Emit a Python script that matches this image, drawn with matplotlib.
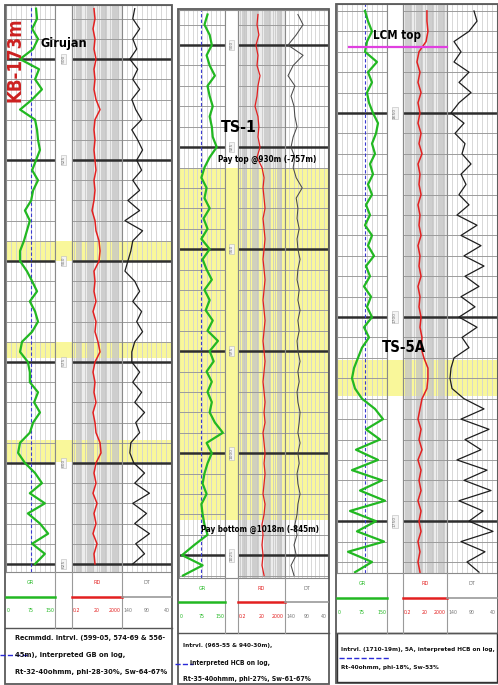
import numpy as np
import matplotlib
matplotlib.use("Agg")
import matplotlib.pyplot as plt
from matplotlib.patches import Rectangle
from matplotlib.lines import Line2D
from matplotlib.ticker import NullLocator
from matplotlib import font_manager as fm

W, H = 498, 685

# pick the narrowest available sans family for the annotation texts
_names = {(f.name, f.stretch) for f in fm.fontManager.ttflist}
if any(n == 'Liberation Sans Narrow' for n, s in _names):
    NARROW, STRETCH = ['Liberation Sans Narrow', 'DejaVu Sans'], 'normal'
elif ('DejaVu Sans', 'condensed') in _names:
    NARROW, STRETCH = ['DejaVu Sans'], 'condensed'
else:
    NARROW, STRETCH = ['Liberation Sans', 'DejaVu Sans'], 'normal'

# ---------------- data ----------------
# Panel 1 : Girujan
p1_depth = np.arange(487.5, 626.0, 2.5)
p1_gr = [92, 95, 80, 98, 83, 43, 101, 89, 110, 80,
         43, 89, 95, 98, 104, 92, 80, 98, 83, 77,
         58, 73, 64, 55, 43, 43, 64, 80, 95, 73,
         89, 98, 80, 49, 43, 67, 73, 73, 98, 86,
         104, 83, 73, 43, 37, 58, 89, 110, 73, 119,
         67, 104, 129, 80, 119, 89]
p1_res = [11.5, 13.8, 9.6, 13.8, 11.5, 16.6, 11.5, 13.8, 11.5, 16.6,
          35, 13.8, 11.5, 13.8, 11.5, 13.8, 16.6, 11.5, 13.8, 11.5,
          8, 13.8, 16.6, 29, 35, 29, 11.5, 13.8, 11.5, 16.6,
          9.6, 16.6, 13.8, 24, 35, 13.8, 9.6, 13.8, 11.5, 16.6,
          9.6, 13.8, 16.6, 35, 42, 16.6, 11.5, 16.6, 9.6, 20,
          11.5, 16.6, 9.6, 20, 11.5, 13.8]
p1_dt = [114, 118, 104, 118, 110, 124, 108, 118, 104, 120,
         112, 100, 120, 108, 98, 110, 100, 118, 104, 128,
         104, 134, 98, 118, 122, 128, 134, 114, 104, 118,
         100, 110, 98, 114, 120, 120, 104, 118, 100, 114,
         94, 112, 104, 122, 124, 116, 94, 114, 84, 118,
         90, 114, 84, 112, 94, 118]
p1_pay = [(545.0, 550.0), (570.0, 574.0), (594.3, 599.7)]
p1_text = ["Recmmdd. Intrvl. (599-05, 574-69 & 556-",
           "45m), interpreted GB on log,",
           "Rt-32-40ohmm, phi-28-30%, Sw-64-67%"]

# Panel 2 : TS-1
p2_depth = np.arange(892.5, 1031.0, 2.5)
p2_gr = [93, 83, 100, 107, 90, 100, 117, 93, 100, 110,
         100, 107, 110, 123, 100, 83, 73, 90, 83, 100,
         80, 93, 73, 100, 77, 90, 107, 83, 100, 87,
         110, 93, 127, 100, 113, 90, 107, 93, 107, 100,
         117, 143, 90, 107, 93, 83, 77, 90, 73, 77,
         83, 93, 50, 10, 77, 13]
p2_res = [10, 8.3, 12, 6.8, 10, 8.3, 15, 10, 8.3, 5.6,
          10, 12, 10, 15, 8.3, 22, 33, 27, 33, 40,
          27, 33, 40, 33, 27, 33, 40, 33, 27, 33,
          40, 33, 27, 33, 40, 33, 27, 33, 40, 33,
          40, 27, 33, 40, 33, 40, 33, 27, 40, 33,
          22, 27, 22, 27, 22, 33]
p2_dt = [110, 98, 114, 133, 98, 121, 133, 117, 126, 119,
         117, 112, 121, 126, 117, 121, 114, 100, 114, 110,
         112, 107, 112, 110, 105, 110, 112, 107, 110, 105,
         110, 107, 112, 110, 105, 110, 107, 112, 110, 105,
         107, 110, 105, 110, 107, 112, 110, 105, 110, 112,
         117, 112, 119, 114, 126, 119]
p2_pay = [(930.0, 1016.5)]
p2_text = ["Intrvl. (965-55 & 940-30m),",
           "interpreted HCB on log,",
           "Rt-35-40ohmm, phi-27%, Sw-61-67%"]

# Panel 3 : TS-5A
p3_depth = np.arange(1625.0, 1763.0, 2.5)
p3_gr = [84, 93, 105, 90, 84, 120, 93, 105, 90, 96,
         108, 123, 117, 105, 114, 99, 108, 93, 105, 87,
         99, 84, 105, 93, 111, 87, 99, 81, 102, 90,
         105, 81, 96, 75, 63, 51, 45, 54, 75, 114,
         138, 87, 129, 57, 123, 45, 135, 69, 144, 39,
         117, 60, 141, 33, 105, 54]
p3_res = [30, 30, 37, 25, 5.7, 3.7, 7, 4.6, 8.7, 4.6,
          7, 4.6, 8.7, 5.7, 10.7, 4.6, 7, 5.7, 8.7, 4.6,
          7, 5.7, 8.7, 4.6, 7, 5.7, 8.7, 4.6, 7, 5.7,
          8.7, 7, 10.7, 8.7, 16, 37, 37, 30, 10.7, 7,
          4.6, 8.7, 5.7, 10.7, 4.6, 8.7, 5.7, 8.7, 4.6, 8.7,
          5.7, 8.7, 4.6, 7, 4.6, 7]
p3_dt = [86, 80, 96, 126, 112, 126, 96, 116, 92, 116,
         132, 106, 124, 104, 110, 92, 112, 102, 116, 96,
         120, 80, 112, 72, 106, 66, 104, 76, 112, 84,
         116, 80, 110, 96, 126, 132, 134, 130, 106, 66,
         112, 56, 104, 72, 120, 60, 106, 52, 116, 68,
         96, 48, 112, 64, 100, 76]
p3_pay = [(1710.5, 1719.3)]
p3_lcm_top = 1633.8
p3_text = ["Intrvl. (1710-19m), 5A, interpreted HCB on log,",
           "Rt-40ohmm, phi-18%, Sw-53%"]

gr_scale = ["0", "75", "150"]
res_scale = ["0.2", "20", "2000"]
dt_scale = ["140", "90", "40"]
curve_names = ["GR", "RD", "DT"]

# ---------------- styling ----------------
YELLOW = '#f9f79a'
GREEN = '#22b822'
RED = '#e32020'

fig = plt.figure(figsize=(W / 100, H / 100), dpi=100)
fig.patch.set_facecolor('white')
renderer = fig.canvas.get_renderer()


def frect(x0, y0, x1, y1):
    return [x0 / W, 1 - y1 / H, (x1 - x0) / W, (y1 - y0) / H]


def fx(x):
    return x / W


def fy(y):
    return 1 - y / H


def fline(x0, x1, y0, y1, **kw):
    fig.add_artist(Line2D([fx(x0), fx(x1)], [fy(y0), fy(y1)],
                          transform=fig.transFigure, **kw))


def fit_text(x, y, s, target, size=8, vertical=False, **kw):
    """Place a text and scale its font so its length matches the target (pixels)."""
    kw.setdefault('family', NARROW)
    kw.setdefault('fontstretch', STRETCH)
    t = fig.text(fx(x), fy(y), s, fontsize=size, **kw)
    for _ in range(2):
        bb = t.get_window_extent(renderer)
        cur = bb.height if vertical else bb.width
        if cur > 0:
            t.set_fontsize(t.get_fontsize() * target / cur)
    return t


panels = [
    dict(xs=(6, 55, 72, 122, 171), ytop=5, ybot=572, dtop=486.6, dbot=627.0,
         depth=p1_depth, gr=p1_gr, res=p1_res, dt=p1_dt, pay=p1_pay,
         grcut=77, major=25, frame=(5, 5, 172, 684), hdr=(597, 610, 628),
         dtcol='#1e1e1e', dtlw=0.9, reslw=1.1,
         text=p1_text, tx=(15, 15, 15), ty=(638, 655, 672), tw=(150, 110, 150)),
    dict(xs=(179, 225, 238, 285, 328), ytop=10, ybot=578, dtop=891.4, dbot=1030.6,
         depth=p2_depth, gr=p2_gr, res=p2_res, dt=p2_dt, pay=p2_pay,
         grcut=72, major=25, frame=(178, 9, 329, 684), hdr=(602, 617, 633),
         dtcol='#4a4a4a', dtlw=0.75, reslw=0.9,
         text=p2_text, tx=(183, 190, 183), ty=(646, 663, 679), tw=(89, 80, 128)),
    dict(xs=(337, 387, 403, 447, 497), ytop=4, ybot=573, dtop=1623.3, dbot=1762.7,
         depth=p3_depth, gr=p3_gr, res=p3_res, dt=p3_dt, pay=p3_pay,
         grcut=84, major=50, frame=(336, 4, 498, 683), hdr=(598, 612, 633),
         dtcol='#1e1e1e', dtlw=0.9, reslw=1.1,
         text=p3_text, tx=(341, 341), ty=(650, 667), tw=(153, 98)),
]

for P in panels:
    g0, g1, r0, r1, d1 = P['xs']
    minor = np.arange(np.ceil(P['dtop'] / 5) * 5, P['dbot'], 5)

    def mk(xa, xb):
        ax = fig.add_axes(frect(xa, P['ytop'], xb, P['ybot']))
        ax.set_ylim(P['dbot'], P['dtop'])
        ax.set_facecolor('white')
        for s in ax.spines.values():
            s.set_color('#8a8a8a')
            s.set_linewidth(0.8)
        for a, b in P['pay']:
            ax.axhspan(a, b, color=YELLOW, lw=0, zorder=0)
        return ax

    def clean(ax):
        ax.xaxis.set_major_locator(NullLocator())
        ax.xaxis.set_minor_locator(NullLocator())
        ax.yaxis.set_major_locator(NullLocator())
        ax.yaxis.set_minor_locator(NullLocator())

    def hgrid(ax):
        for d in minor:
            if d % P['major'] == 0:
                ax.axhline(d, color='#2e2e2e', lw=1.8, zorder=1.5)
            else:
                ax.axhline(d, color='#9c9c9c', lw=0.7, zorder=1)

    # GR track
    ax_gr = mk(g0, g1)
    ax_gr.set_xlim(0, 150)
    for v in np.arange(15, 150, 15):
        ax_gr.axvline(v, color='#d2d2d2', lw=0.6, zorder=0.8)
    hgrid(ax_gr)
    ax_gr.axvline(P['grcut'], color='#3a3ad0', lw=0.8, ls=(0, (3, 2)), zorder=2)
    ax_gr.plot(P['gr'], P['depth'], color=GREEN, lw=1.6, zorder=3)
    clean(ax_gr)

    # depth column
    ax_d = mk(g1, r0)
    ax_d.set_xlim(0, 1)
    for d in minor:
        if d % P['major'] == 0:
            ax_d.text(0.5, d, f"{int(d)}", rotation=90, fontsize=3.2, color='#777777',
                      ha='center', va='center', transform=ax_d.get_yaxis_transform(),
                      bbox=dict(boxstyle='square,pad=0.2', fc='#f4f4f4', ec='#bbbbbb', lw=0.4),
                      zorder=3)
    clean(ax_d)

    # resistivity track (log)
    ax_r = mk(r0, r1)
    ax_r.set_xscale('log')
    ax_r.set_xlim(0.2, 2000)
    ax_r.axvspan(0.2, 2000, color='#ececec', lw=0, zorder=0.2)
    for a, b in P['pay']:
        ax_r.axhspan(a, b, color=YELLOW, lw=0, zorder=0.3)
    for e in range(-1, 4):
        for k in range(1, 10):
            v = k * 10.0 ** e
            if 0.2 < v < 2000:
                ax_r.axvline(v, color='#c6c6c6', lw=0.55, zorder=0.8)
    hgrid(ax_r)
    ax_r.plot(P['res'], P['depth'], color=RED, lw=P['reslw'], zorder=3)
    clean(ax_r)

    # DT track
    ax_t = mk(r1, d1)
    ax_t.set_xlim(140, 40)
    for v in np.arange(50, 140, 10):
        ax_t.axvline(v, color='#d2d2d2', lw=0.6, zorder=0.8)
    hgrid(ax_t)
    ax_t.plot(P['dt'], P['depth'], color=P['dtcol'], lw=P['dtlw'], zorder=3)
    clean(ax_t)

    # ---- header ----
    fx0, fy0, fx1, fy1 = P['frame']
    hl, hn, hb = P['hdr']
    fline(fx0, fx1, hb, hb, color='#555555', lw=1.0)
    for xv in (g1, r0, r1):
        fline(xv, xv, P['ybot'], hb, color='#9a9a9a', lw=0.8)
    fline(g0, g1, hl, hl, color=GREEN, lw=1.8)
    fline(r0, r1, hl, hl, color=RED, lw=1.8)
    fline(r1, d1, hl, hl, color='#9a9a9a', lw=1.2)
    ymid = (P['ybot'] + hl) / 2 - 2
    for (a, b), name, col in zip(((g0, g1), (r0, r1), (r1, d1)), curve_names,
                                  (GREEN, RED, '#777777')):
        fig.text(fx((a + b) / 2), fy(ymid), name, fontsize=4, color=col,
                 ha='center', va='center', family=NARROW, fontstretch=STRETCH)
    for (a, b), labs, col in zip(((g0, g1), (r0, r1), (r1, d1)),
                                 (gr_scale, res_scale, dt_scale),
                                 (GREEN, RED, '#777777')):
        for lab, xx, ha in ((labs[0], a + 1, 'left'), (labs[1], (a + b) / 2, 'center'),
                            (labs[2], b - 1, 'right')):
            fig.text(fx(xx), fy(hn), lab, fontsize=3.8, color=col, ha=ha, va='center',
                     family=NARROW, fontstretch=STRETCH)

    # annotation text
    for line, x, y, w in zip(P['text'], P['tx'], P['ty'], P['tw']):
        fit_text(x, y, line, w, fontweight='bold', ha='left', va='center', color='#111111')

    # panel frame
    fig.add_artist(Rectangle((fx(fx0), fy(fy1)), fx(fx1) - fx(fx0), fy(fy0) - fy(fy1),
                             transform=fig.transFigure, fill=False, ec='#5a5a5a', lw=1.3))

# panel 3 text box and LCM top marker
fig.add_artist(Rectangle((fx(337), fy(682)), fx(497) - fx(337), fy(633) - fy(682),
                         transform=fig.transFigure, fill=False, ec='#333333', lw=1.0))
ov = fig.add_axes(frect(337, 4, 497, 573), facecolor='none')
ov.set_ylim(panels[2]['dbot'], panels[2]['dtop'])
ov.set_xlim(0, 1)
ov.axis('off')
ov.axhline(p3_lcm_top, xmin=0.075, xmax=0.685, color='#e040e0', lw=1.6, zorder=5)

# blue dashed strokes near the notes
fline(0, 28, 655, 655, color='#2a2ad8', lw=1.0, ls='--')
fline(175, 193, 664, 664, color='#2a2ad8', lw=1.0, ls='--')
fline(339, 390, 658, 658, color='#2a2ad8', lw=1.0, ls='--')

# labels on the logs
fit_text(64, 43, "Girujan", 46, fontweight='bold', ha='center', va='center', color='black')
fit_text(15, 60, "KB-173m", 84, vertical=True, fontweight='bold', rotation=90,
         ha='center', va='center', color='#cc2020')
fit_text(239, 128, "TS-1", 36, fontweight='bold', ha='center', va='center', color='black')
fit_text(267, 159, "Pay top @930m (-757m)", 100, fontweight='bold', ha='center', va='center',
         color='black')
fit_text(260, 529, "Pay bottom @1018m (-845m)", 118, fontweight='bold', ha='center',
         va='center', color='black')
fit_text(397, 36, "LCM top", 48, fontweight='bold', ha='center', va='center', color='black')
fit_text(404, 348, "TS-5A", 44, fontweight='bold', ha='center', va='center', color='black')

fig.savefig('out.png', dpi=100, facecolor='white')
